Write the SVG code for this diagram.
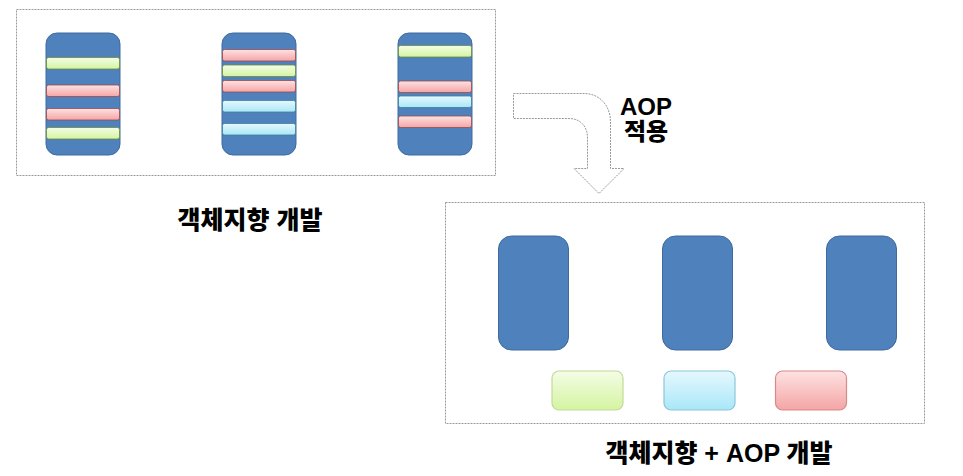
<svg xmlns="http://www.w3.org/2000/svg" width="963" height="476" viewBox="0 0 963 476">
<defs>
<linearGradient id="gG" x1="0" y1="0" x2="0" y2="1"><stop offset="0" stop-color="#f4fde6"/><stop offset="1" stop-color="#d4f4a0"/></linearGradient>
<linearGradient id="gP" x1="0" y1="0" x2="0" y2="1"><stop offset="0" stop-color="#fde2e2"/><stop offset="1" stop-color="#f5a5a5"/></linearGradient>
<linearGradient id="gC" x1="0" y1="0" x2="0" y2="1"><stop offset="0" stop-color="#e6f8fe"/><stop offset="1" stop-color="#a9e7f8"/></linearGradient>
</defs>
<style>
.frame{fill:#fff;stroke:#9a9a9a;stroke-width:1;stroke-dasharray:2 1}
.pill{fill:#4f81bd;stroke:#3e6aa0;stroke-width:1}
.sg{fill:url(#gG);stroke:#6f8a3a;stroke-width:0.8}
.sp{fill:url(#gP);stroke:#9a4a4a;stroke-width:0.8}
.sc{fill:url(#gC);stroke:#3f7f98;stroke-width:0.8}
.bg{fill:url(#gG);stroke:#c3d99a;stroke-width:1.2}
.bc{fill:url(#gC);stroke:#8cc6d8;stroke-width:1.2}
.bp{fill:url(#gP);stroke:#d88a8a;stroke-width:1.2}
.lbl{font-family:"Liberation Sans","Noto Sans CJK KR",sans-serif;font-weight:900;fill:#000;text-anchor:middle}
.arrow{fill:#fff;stroke:#9a9a9a;stroke-width:1;stroke-dasharray:2 1}
</style>

<g id="oop-frame">
<rect class="frame" x="16.5" y="9.5" width="479" height="166"/>
</g>
<g id="oop-class-1">
<rect class="pill" x="46" y="33" width="74" height="122" rx="11"/>
<rect class="sg" x="46.5" y="57.5" width="73" height="11.5" rx="2"/>
<rect class="sp" x="46.5" y="85" width="73" height="11.5" rx="2"/>
<rect class="sp" x="46.5" y="108.5" width="73" height="11.5" rx="2"/>
<rect class="sg" x="46.5" y="127.5" width="73" height="11.5" rx="2"/>
</g>
<g id="oop-class-2">
<rect class="pill" x="222" y="33" width="74" height="122" rx="11"/>
<rect class="sp" x="222.5" y="49.5" width="73" height="11.5" rx="2"/>
<rect class="sg" x="222.5" y="65" width="73" height="11.5" rx="2"/>
<rect class="sp" x="222.5" y="80.5" width="73" height="11.5" rx="2"/>
<rect class="sc" x="222.5" y="100.5" width="73" height="11.5" rx="2"/>
<rect class="sc" x="222.5" y="123.5" width="73" height="11.5" rx="2"/>
</g>
<g id="oop-class-3">
<rect class="pill" x="398" y="33" width="74" height="122" rx="11"/>
<rect class="sg" x="398.5" y="45.5" width="73" height="11.5" rx="2"/>
<rect class="sp" x="398.5" y="81" width="73" height="11.5" rx="2"/>
<rect class="sc" x="398.5" y="96" width="73" height="11.5" rx="2"/>
<rect class="sp" x="398.5" y="116" width="73" height="11.5" rx="2"/>
</g>
<g id="oop-label">
<text class="lbl" x="250" y="229" font-size="25">객체지향 개발</text>
</g>

<g id="connectors">
<path class="arrow" d="M513.5,93.5 L584,93.5 C600,93.5 610.5,106 610.5,122 L610.5,168.5 L624,168.5 L599,193.5 L574,168.5 L587.5,168.5 L587.5,138 C587.5,126 580,118.5 569,118.5 L513.5,118.5 Z"/>
</g>
<g id="aop-label">
<text class="lbl" x="646" y="115" font-size="24">AOP</text>
<text class="lbl" x="646" y="140" font-size="24">적용</text>
</g>

<g id="aop-frame">
<rect class="frame" x="445.5" y="202.5" width="479" height="221"/>
</g>
<g id="aop-class-1"><rect class="pill" x="498.5" y="236" width="70" height="114" rx="13"/></g>
<g id="aop-class-2"><rect class="pill" x="662.5" y="236" width="70" height="114" rx="13"/></g>
<g id="aop-class-3"><rect class="pill" x="826.5" y="236" width="70" height="114" rx="13"/></g>
<g id="aspect-green"><rect class="bg" x="552" y="371" width="71" height="39" rx="7"/></g>
<g id="aspect-cyan"><rect class="bc" x="664" y="371" width="71" height="39" rx="7"/></g>
<g id="aspect-pink"><rect class="bp" x="775.5" y="371" width="71" height="39" rx="7"/></g>
<g id="aop-dev-label">
<text class="lbl" x="719" y="462" font-size="25">객체지향 + AOP 개발</text>
</g>
</svg>
